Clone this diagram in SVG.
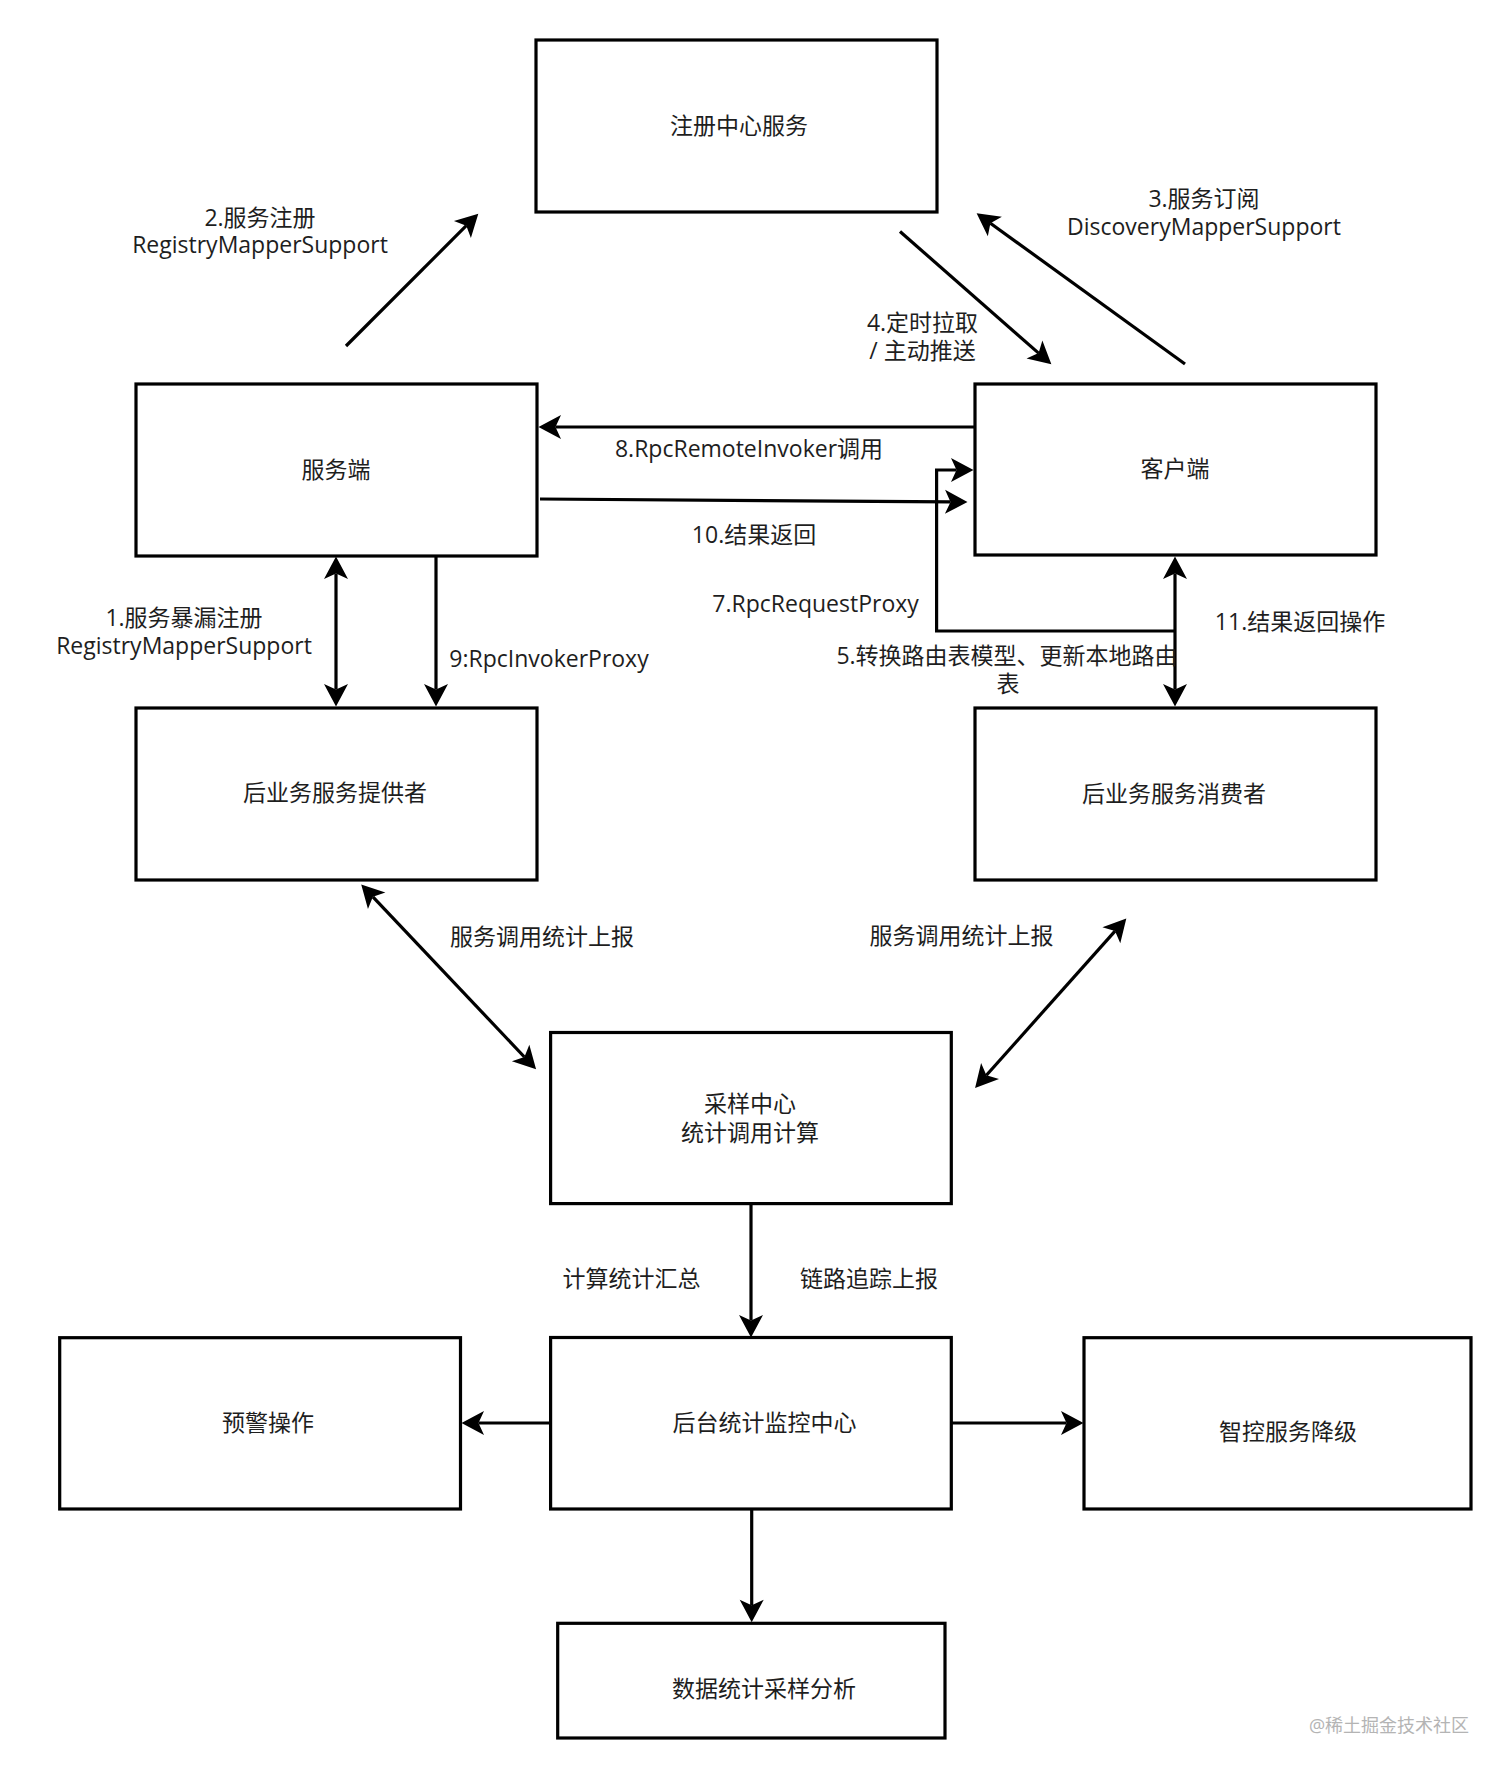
<svg xmlns="http://www.w3.org/2000/svg" width="1512" height="1779" viewBox="0 0 1512 1779">
  <style>
    .box { fill: #ffffff; stroke: #000000; stroke-width: 3.2; }
    .conn { fill: none; stroke: #000000; stroke-width: 3.2; }
    .t { font-family: "Open Sans", "Noto Sans CJK SC", sans-serif; font-size: 23px; fill: #1e1e1e; text-anchor: middle; }
    .wm { font-family: "Open Sans", "Noto Sans CJK SC", sans-serif; font-size: 18px; fill: #b4b4b4; text-anchor: middle; }
  </style>
  <defs>
    <marker id="arr" markerUnits="userSpaceOnUse" viewBox="-10 -15 40 30" markerWidth="40" markerHeight="30" refX="0" refY="0" orient="auto-start-reverse" overflow="visible">
      <path d="M17,0 L-5.5,-12 L0,0 L-5.5,12 Z" fill="#000000"/>
    </marker>
  </defs>
  <rect width="1512" height="1779" fill="#ffffff"/>

  <g id="connectors">
    <line class="conn" x1="346" y1="346" x2="466.3" y2="225.7" marker-end="url(#arr)"/>
    <line class="conn" x1="1185" y1="364" x2="990.4" y2="223.2" marker-end="url(#arr)"/>
    <line class="conn" x1="900" y1="231.5" x2="1038.6" y2="353.1" marker-end="url(#arr)"/>
    <line class="conn" x1="975" y1="427" x2="555.5" y2="427" marker-end="url(#arr)"/>
    <line class="conn" x1="540" y1="499" x2="950.5" y2="501.9" marker-end="url(#arr)"/>
    <polyline class="conn" points="1175,631 936.6,631 936.6,470 956.5,470" marker-end="url(#arr)"/>
    <line class="conn" x1="336" y1="573.5" x2="336" y2="689.5" marker-start="url(#arr)" marker-end="url(#arr)"/>
    <line class="conn" x1="436" y1="556" x2="436" y2="689.5" marker-end="url(#arr)"/>
    <line class="conn" x1="1175" y1="573.5" x2="1175" y2="689.5" marker-start="url(#arr)" marker-end="url(#arr)"/>
    <line class="conn" x1="372.9" y1="896.8" x2="524.4" y2="1057" marker-start="url(#arr)" marker-end="url(#arr)"/>
    <line class="conn" x1="1115" y1="931.1" x2="986.4" y2="1075.2" marker-start="url(#arr)" marker-end="url(#arr)"/>
    <line class="conn" x1="751" y1="1204" x2="751" y2="1320.5" marker-end="url(#arr)"/>
    <line class="conn" x1="550.6" y1="1423" x2="478.5" y2="1423" marker-end="url(#arr)"/>
    <line class="conn" x1="951.3" y1="1423" x2="1066.5" y2="1423" marker-end="url(#arr)"/>
    <line class="conn" x1="751.7" y1="1509" x2="751.7" y2="1605.2" marker-end="url(#arr)"/>
  </g>

  <g id="labels">
    <text class="t" x="260" y="226">2.服务注册<tspan x="260" dy="27">RegistryMapperSupport</tspan></text>
    <text class="t" x="1204" y="207">3.服务订阅<tspan x="1204" dy="27.5">DiscoveryMapperSupport</tspan></text>
    <text class="t" x="922.5" y="330.6">4.定时拉取<tspan x="922.5" dy="28">/ 主动推送</tspan></text>
    <text class="t" x="749" y="457">8.RpcRemoteInvoker调用</text>
    <text class="t" x="754" y="543">10.结果返回</text>
    <text class="t" x="815.6" y="612">7.RpcRequestProxy</text>
    <text class="t" x="1007" y="664">5.转换路由表模型、更新本地路由<tspan x="1008" dy="28">表</tspan></text>
    <text class="t" x="1300" y="630">11.结果返回操作</text>
    <text class="t" x="184" y="626">1.服务暴漏注册<tspan x="184" dy="28">RegistryMapperSupport</tspan></text>
    <text class="t" x="549" y="667">9:RpcInvokerProxy</text>
    <text class="t" x="542" y="944.6">服务调用统计上报</text>
    <text class="t" x="961.6" y="943.7">服务调用统计上报</text>
    <text class="t" x="631.6" y="1287.4">计算统计汇总</text>
    <text class="t" x="869" y="1287">链路追踪上报</text>
  </g>

  <g id="registry">
    <rect class="box" x="536" y="40" width="401" height="172"/>
    <text class="t" x="739" y="134">注册中心服务</text>
  </g>
  <g id="server">
    <rect class="box" x="136" y="384" width="401" height="172"/>
    <text class="t" x="336" y="478">服务端</text>
  </g>
  <g id="client">
    <rect class="box" x="975" y="384" width="401" height="171"/>
    <text class="t" x="1175" y="477">客户端</text>
  </g>
  <g id="provider">
    <rect class="box" x="136" y="708" width="401" height="172"/>
    <text class="t" x="335" y="801">后业务服务提供者</text>
  </g>
  <g id="consumer">
    <rect class="box" x="975" y="708" width="401" height="172"/>
    <text class="t" x="1174" y="802">后业务服务消费者</text>
  </g>
  <g id="sampling">
    <rect class="box" x="550.6" y="1032.5" width="400.7" height="171.1"/>
    <text class="t" x="750" y="1112">采样中心<tspan x="750" dy="29">统计调用计算</tspan></text>
  </g>
  <g id="monitor">
    <rect class="box" x="550.6" y="1337.5" width="400.7" height="171.5"/>
    <text class="t" x="764.6" y="1431">后台统计监控中心</text>
  </g>
  <g id="alert">
    <rect class="box" x="59.7" y="1337.7" width="400.8" height="171.3"/>
    <text class="t" x="268" y="1431">预警操作</text>
  </g>
  <g id="degrade">
    <rect class="box" x="1084" y="1337.7" width="387" height="171.3"/>
    <text class="t" x="1288" y="1440">智控服务降级</text>
  </g>
  <g id="analysis">
    <rect class="box" x="557.7" y="1623.3" width="387.3" height="114.7"/>
    <text class="t" x="764" y="1697">数据统计采样分析</text>
  </g>

  <text class="wm" x="1389" y="1732">@稀土掘金技术社区</text>
</svg>
